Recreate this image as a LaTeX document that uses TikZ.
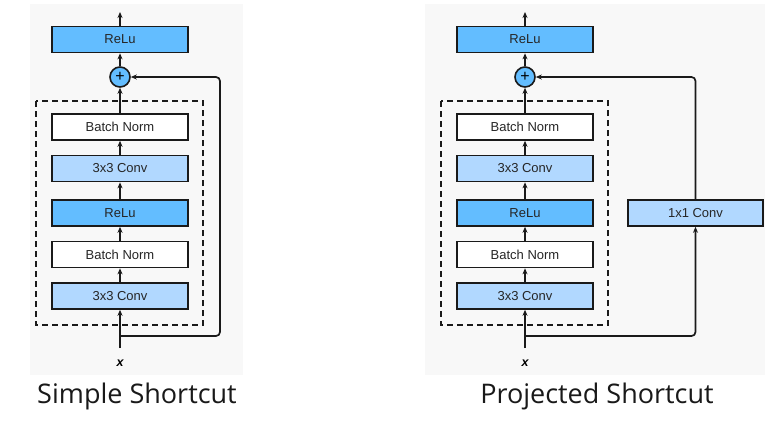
\documentclass[tikz,border=0pt]{standalone}
\usepackage{fontspec}
\setmainfont{Liberation Sans}
\newfontfamily\titlefont{Open Sans}
\usetikzlibrary{arrows.meta}
\definecolor{panelbg}{HTML}{F8F8F8}
\definecolor{relublue}{HTML}{63BDFF}
\definecolor{convblue}{HTML}{B1D8FF}
\definecolor{edge}{HTML}{1A1A1A}
\tikzset{
  layer/.style={draw=edge, line width=1.6pt, minimum width=136pt, minimum height=26pt,
    inner sep=0pt, font=\fontsize{13}{15}\selectfont, text=black!85},
  relubox/.style={layer, fill=relublue},
  convbox/.style={layer, fill=convblue},
  normbox/.style={layer, fill=white},
  addop/.style={circle, draw=edge, line width=1.6pt, fill=relublue, minimum size=20pt,
    inner sep=0pt, font=\fontsize{16}{16}\selectfont},
  tip/.style={-{Stealth[length=6pt,width=5pt]}},
  flow/.style={draw=edge, line width=1.7pt, tip},
  wire/.style={draw=edge, line width=1.7pt, rounded corners=4pt},
  blockframe/.style={draw=edge, line width=1.6pt, dash pattern=on 6pt off 4pt},
  caption/.style={font=\titlefont\fontsize{27}{30}\selectfont, text=black!90, anchor=base},
  inputlabel/.style={font=\bfseries\itshape\fontsize{12.5}{12.5}\selectfont}
}
\begin{document}
\begin{tikzpicture}[x=1pt, y=-1pt]
\useasboundingbox (0,0) rectangle (765,421);
\fill[white] (0,0) rectangle (765,421);

% ---------- simple shortcut ----------
\fill[panelbg] (30,4) rectangle (243,375);
\draw[blockframe] (36,101) rectangle (203,325);
\node[relubox] (Lout) at (120,39.5) {ReLu};
\node[addop] (Ladd) at (120,77) {+};
\node[normbox] (Lbn2) at (120,127) {Batch Norm};
\node[convbox] (Lcv2) at (120,168.5) {3x3 Conv};
\node[relubox] (Lrl1) at (120,213) {ReLu};
\node[normbox] (Lbn1) at (120,254.5) {Batch Norm};
\node[convbox] (Lcv1) at (120,296) {3x3 Conv};
\node[inputlabel] (Lx) at (120,363) {x};
\coordinate (Lin) at (120,348);
\coordinate (Lsplit) at (120,336);
\coordinate (Ltop) at (120,12);

\draw[flow] (Lin) -- (Lcv1);
\draw[flow] (Lcv1) -- (Lbn1);
\draw[flow] (Lbn1) -- (Lrl1);
\draw[flow] (Lrl1) -- (Lcv2);
\draw[flow] (Lcv2) -- (Lbn2);
\draw[flow] (Lbn2) -- (Ladd);
\draw[flow] (Ladd) -- (Lout);
\draw[flow] (Lout) -- (Ltop);
\draw[wire, tip] (Lsplit) -- (220,336) -- (220,77) -- (Ladd);

% ---------- projected shortcut ----------
\fill[panelbg] (425,4) rectangle (765,375);
\draw[blockframe] (441,101) rectangle (608,325);
\node[relubox] (Rout) at (525,39.5) {ReLu};
\node[addop] (Radd) at (525,77) {+};
\node[normbox] (Rbn2) at (525,127) {Batch Norm};
\node[convbox] (Rcv2) at (525,168.5) {3x3 Conv};
\node[relubox] (Rrl1) at (525,213) {ReLu};
\node[normbox] (Rbn1) at (525,254.5) {Batch Norm};
\node[convbox] (Rcv1) at (525,296) {3x3 Conv};
\node[convbox, minimum width=135pt] (Rproj) at (695.5,213) {1x1 Conv};
\node[inputlabel] (Rx) at (525,363) {x};
\coordinate (Rin) at (525,348);
\coordinate (Rsplit) at (525,336);
\coordinate (Rtop) at (525,12);

\draw[flow] (Rin) -- (Rcv1);
\draw[flow] (Rcv1) -- (Rbn1);
\draw[flow] (Rbn1) -- (Rrl1);
\draw[flow] (Rrl1) -- (Rcv2);
\draw[flow] (Rcv2) -- (Rbn2);
\draw[flow] (Rbn2) -- (Radd);
\draw[flow] (Radd) -- (Rout);
\draw[flow] (Rout) -- (Rtop);
\draw[wire, tip] (Rsplit) -- (695.5,336) -- (Rproj.south);
\draw[wire, tip] (Rproj.north) -- (695.5,77) -- (Radd);

% ---------- captions ----------
\node[caption] (Lcap) at (137,403) {Simple Shortcut};
\node[caption] (Rcap) at (597,403) {Projected Shortcut};
\end{tikzpicture}
\end{document}
